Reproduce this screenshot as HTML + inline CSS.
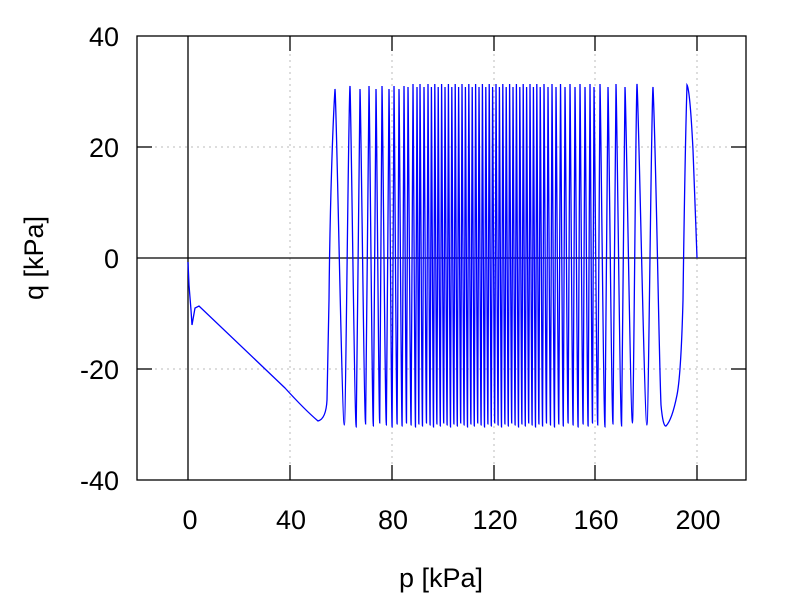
<!DOCTYPE html>
<html><head><meta charset="utf-8"><style>
body{margin:0;background:#fff}
svg text{font-family:"Liberation Sans",sans-serif;font-size:27px;fill:#000}
</style></head><body>
<svg width="800" height="600" xmlns="http://www.w3.org/2000/svg">
<rect width="800" height="600" fill="#fff"/>
<g stroke="#bbb" stroke-width="1" stroke-dasharray="2,4">
<line x1="290" y1="36" x2="290" y2="480"/><line x1="392" y1="36" x2="392" y2="480"/><line x1="494" y1="36" x2="494" y2="480"/><line x1="595" y1="36" x2="595" y2="480"/><line x1="697" y1="36" x2="697" y2="480"/>
<line x1="137" y1="147" x2="746" y2="147"/><line x1="137" y1="369" x2="746" y2="369"/>
</g>
<g stroke="#000" stroke-width="1.3">
<line x1="188" y1="36" x2="188" y2="480"/><line x1="137" y1="258" x2="746" y2="258"/>
<line x1="137" y1="147" x2="152" y2="147"/><line x1="137" y1="369" x2="152" y2="369"/>
<line x1="731" y1="147" x2="746" y2="147"/><line x1="731" y1="369" x2="746" y2="369"/>
<line x1="290" y1="480" x2="290" y2="465"/><line x1="392" y1="480" x2="392" y2="465"/><line x1="494" y1="480" x2="494" y2="465"/><line x1="595" y1="480" x2="595" y2="465"/><line x1="697" y1="480" x2="697" y2="465"/>
<line x1="290" y1="36" x2="290" y2="51"/><line x1="392" y1="36" x2="392" y2="51"/><line x1="494" y1="36" x2="494" y2="51"/><line x1="595" y1="36" x2="595" y2="51"/><line x1="697" y1="36" x2="697" y2="51"/>
</g>
<rect x="137" y="36" width="609" height="444" fill="none" stroke="#000" stroke-width="1.3"/>
<path id="curve" fill="none" stroke="#0000ff" stroke-width="1.3"/>
<g text-anchor="end">
<text x="119" y="46">40</text><text x="119" y="157">20</text><text x="119" y="268">0</text><text x="119" y="379">-20</text><text x="119" y="490">-40</text>
</g>
<g text-anchor="middle">
<text x="190" y="529">0</text><text x="291" y="529">40</text><text x="393" y="529">80</text><text x="495" y="529">120</text><text x="596" y="529">160</text><text x="698" y="529">200</text>
<text x="441" y="587">p [kPa]</text>
<text transform="translate(43,258) rotate(-90)">q [kPa]</text>
</g>
</svg>
<script>
var peaks=[335,350,360,369,376,382,389,394,399,404,408,413,417,420,424,428];
var x=431.4;while(x<541){peaks.push(Math.round(x*10)/10);x+=3.4;}
peaks=peaks.concat([544,548,552,556,560.5,565,570,575,580,585,590,594,600,608,616,625,637,653]);
var d="M188,262 L189,285 L191,310 L192,325 L195,308 L199,306 L285,388 Q305,410 318,421 Q326,419 327,400 L329,300 C330,200 333,120 335,89";
for(var i=1;i<peaks.length;i++){
 var p0=peaks[i-1],p1=peaks[i],g=p1-p0;
 var tx=p0+g*0.62, ty=424+((i*7)%5)-1, py=87-((i*3)%6)+(i<10?2:0);
 d+=" C"+(p0+g*0.1)+",100 "+(tx-g*0.15)+","+ty+" "+tx+","+ty;
 d+=" C"+(tx+g*0.1)+","+ty+" "+(p1-g*0.1)+","+(py+10)+" "+p1+","+py;
}
d+=" C656,150 659,360 661,405 Q663,427 666,426 Q672,420 677,395 Q681,375 683,300 Q685,150 687,85 Q690,90 693,150 L696,230 L697,258";
document.getElementById("curve").setAttribute("d",d);
</script>
</body></html>
